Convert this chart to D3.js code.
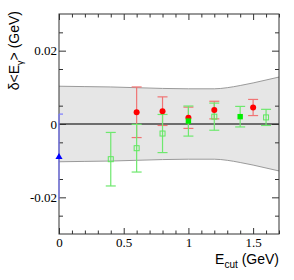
<!DOCTYPE html>
<html>
<head>
<meta charset="utf-8">
<script src="https://cdn.jsdelivr.net/npm/d3@7"></script>
<style>
  body { margin: 0; background: #fff; }
  svg { display: block; }
</style>
</head>
<body>
<svg></svg>
<script>
// band: systematic envelope around zero
const bandE = [0, 0.2, 0.4, 0.6, 0.8, 1.0, 1.2, 1.3, 1.4, 1.5, 1.6, 1.7];
const bandHW = [0.0103, 0.0102, 0.0101, 0.0099, 0.0097, 0.0096, 0.0096, 0.0099, 0.0105, 0.0112, 0.012, 0.0128];

// red filled circles
const redE = [0.6, 0.8, 1.0, 1.2, 1.5];
const redV = [0.0032, 0.0035, 0.0017, 0.0038, 0.0045];
const redErr = [0.0069, 0.0039, 0.0029, 0.0024, 0.0022];

// green open squares
const openE = [0.4, 0.6, 0.8, 1.2, 1.6];
const openV = [-0.0096, -0.0066, -0.0026, 0.002, 0.0018];
const openErr = [0.0073, 0.0065, 0.0052, 0.0037, 0.0022];

// green filled squares
const fillE = [1.0, 1.4];
const fillV = [0.0008, 0.002];
const fillErr = [0.0041, 0.0028];

// blue triangle
const blueE = [0];
const blueV = [-0.009];
const blueErr = [0.0117];

const xTicks = [0, 0.5, 1, 1.5];
const xTickLabels = ["0", "0.5", "1", "1.5"];
const yTicks = [-0.02, 0, 0.02];
const yTickLabels = ["-0.02", "0", "0.02"];

let svg = d3.select("svg").attr("width", 294).attr("height", 280);

const pLeft = 59, pRight = 279, pTop = 14, pBottom = 234;
let x = d3.scaleLinear().domain([0, 1.7]).range([pLeft, pRight]);
let y = d3.scaleLinear().domain([-0.03, 0.03]).range([pBottom, pTop]);

// band
let area = d3.area()
    .x((d, i) => x(bandE[i]))
    .y0((d, i) => y(-bandHW[i]))
    .y1((d, i) => y(bandHW[i]))
    .curve(d3.curveMonotoneX);
svg.append("path").attr("d", area(bandE)).style("fill", "#e6e6e6");
let edge = d3.line().x((d, i) => x(bandE[i])).curve(d3.curveMonotoneX);
svg.append("path").attr("d", edge.y((d, i) => y(bandHW[i]))(bandE))
    .style("fill", "none").style("stroke", "#9a9a9a").style("stroke-width", 1);
svg.append("path").attr("d", edge.y((d, i) => y(-bandHW[i]))(bandE))
    .style("fill", "none").style("stroke", "#9a9a9a").style("stroke-width", 1);

// zero line
svg.append("line")
    .attr("x1", x(0)).attr("x2", x(1.7))
    .attr("y1", y(0)).attr("y2", y(0))
    .style("stroke", "#444").style("stroke-width", 1.4);

// axes
const minorX = d3.range(0, 1.71, 0.1).filter(v => Math.abs(v * 2 - Math.round(v * 2)) > 1e-6);
const minorY = d3.range(-0.03, 0.0301, 0.005).filter(v => Math.abs(v / 0.01 - Math.round(v / 0.01)) > 1e-6);

function styleAxis(g) {
    g.select(".domain").remove();
    g.selectAll(".tick line").style("stroke", "#333");
    g.selectAll("text").style("font-family", "'Liberation Serif', serif").style("font-size", "13px").style("fill", "#000");
}

svg.append("g").attr("transform", `translate(0,${pBottom})`)
    .call(d3.axisBottom(x).tickValues(xTicks).tickSize(-6).tickPadding(4)
        .tickFormat((d, i) => xTickLabels[i]))
    .call(styleAxis);
svg.append("g").attr("transform", `translate(0,${pBottom})`)
    .call(d3.axisBottom(x).tickValues(minorX).tickSize(-3.5).tickFormat(""))
    .call(styleAxis);
svg.append("g").attr("transform", `translate(0,${pTop})`)
    .call(d3.axisTop(x).tickValues(xTicks).tickSize(-6).tickFormat(""))
    .call(styleAxis);
svg.append("g").attr("transform", `translate(0,${pTop})`)
    .call(d3.axisTop(x).tickValues(minorX).tickSize(-3.5).tickFormat(""))
    .call(styleAxis);

svg.append("g").attr("transform", `translate(${pLeft},0)`)
    .call(d3.axisLeft(y).tickValues(yTicks).tickSize(-7).tickPadding(2)
        .tickFormat((d, i) => yTickLabels[i]))
    .call(styleAxis);
svg.append("g").attr("transform", `translate(${pLeft},0)`)
    .call(d3.axisLeft(y).tickValues(minorY).tickSize(-4).tickFormat(""))
    .call(styleAxis);
svg.append("g").attr("transform", `translate(${pRight},0)`)
    .call(d3.axisRight(y).tickValues(yTicks).tickSize(-7).tickFormat(""))
    .call(styleAxis);
svg.append("g").attr("transform", `translate(${pRight},0)`)
    .call(d3.axisRight(y).tickValues(minorY).tickSize(-4).tickFormat(""))
    .call(styleAxis);

// frame
svg.append("rect")
    .attr("x", pLeft).attr("y", pTop)
    .attr("width", pRight - pLeft).attr("height", pBottom - pTop)
    .style("fill", "none").style("stroke", "#333").style("stroke-width", 1);

// error bars
function errorBars(E, V, Err, color, cap) {
    let g = svg.append("g").style("stroke", color).style("stroke-width", 1.2);
    E.forEach((e, i) => {
        g.append("line").attr("x1", x(e)).attr("x2", x(e))
            .attr("y1", y(V[i] - Err[i])).attr("y2", y(V[i] + Err[i]));
        [V[i] - Err[i], V[i] + Err[i]].forEach(v => {
            g.append("line").attr("x1", x(e) - cap).attr("x2", x(e) + cap)
                .attr("y1", y(v)).attr("y2", y(v));
        });
    });
}

errorBars(blueE, blueV, blueErr, "#7b7bff", 0);
svg.append("line")
    .attr("x1", x(0)).attr("x2", x(0) + 4)
    .attr("y1", y(blueV[0] + blueErr[0])).attr("y2", y(blueV[0] + blueErr[0]))
    .style("stroke", "#7b7bff").style("stroke-width", 1.2);
errorBars(redE, redV, redErr, "#f07474", 5);
errorBars(openE, openV, openErr, "#6ee86e", 5);
errorBars(fillE, fillV, fillErr, "#6ee86e", 5);

// markers
svg.append("g").selectAll("circle").data(redE).join("circle")
    .attr("cx", d => x(d)).attr("cy", (d, i) => y(redV[i]))
    .attr("r", 3).style("fill", "#ff0000");

svg.append("g").selectAll("rect").data(openE).join("rect")
    .attr("x", d => x(d) - 2.5).attr("y", (d, i) => y(openV[i]) - 2.5)
    .attr("width", 5).attr("height", 5)
    .style("fill", "none").style("stroke", "#5ee85e").style("stroke-width", 1);

svg.append("g").selectAll("rect").data(fillE).join("rect")
    .attr("x", d => x(d) - 2.7).attr("y", (d, i) => y(fillV[i]) - 2.7)
    .attr("width", 5.4).attr("height", 5.4)
    .style("fill", "#00ee00");

svg.append("g").selectAll("path").data(blueE).join("path")
    .attr("d", d3.symbol(d3.symbolTriangle, 22))
    .attr("transform", (d, i) => `translate(${x(d)},${y(blueV[i])})`)
    .style("fill", "#0000ff");

// titles
let yt = svg.append("text")
    .attr("transform", "translate(19,11) rotate(-90)")
    .attr("text-anchor", "end")
    .style("font-family", "'Liberation Sans', Arial, sans-serif")
    .style("font-size", "14px");
yt.append("tspan").text("δ<E");
yt.append("tspan").attr("dy", 4).style("font-size", "9px").text("γ");
yt.append("tspan").attr("dy", -4).text("> (GeV)");

let xt = svg.append("text")
    .attr("x", pRight).attr("y", 264)
    .attr("text-anchor", "end")
    .style("font-family", "'Liberation Sans', Arial, sans-serif")
    .style("font-size", "14px");
xt.append("tspan").text("E");
xt.append("tspan").attr("dy", 4).style("font-size", "10px").text("cut");
xt.append("tspan").attr("dy", -4).text(" (GeV)");
</script>
</body>
</html>
